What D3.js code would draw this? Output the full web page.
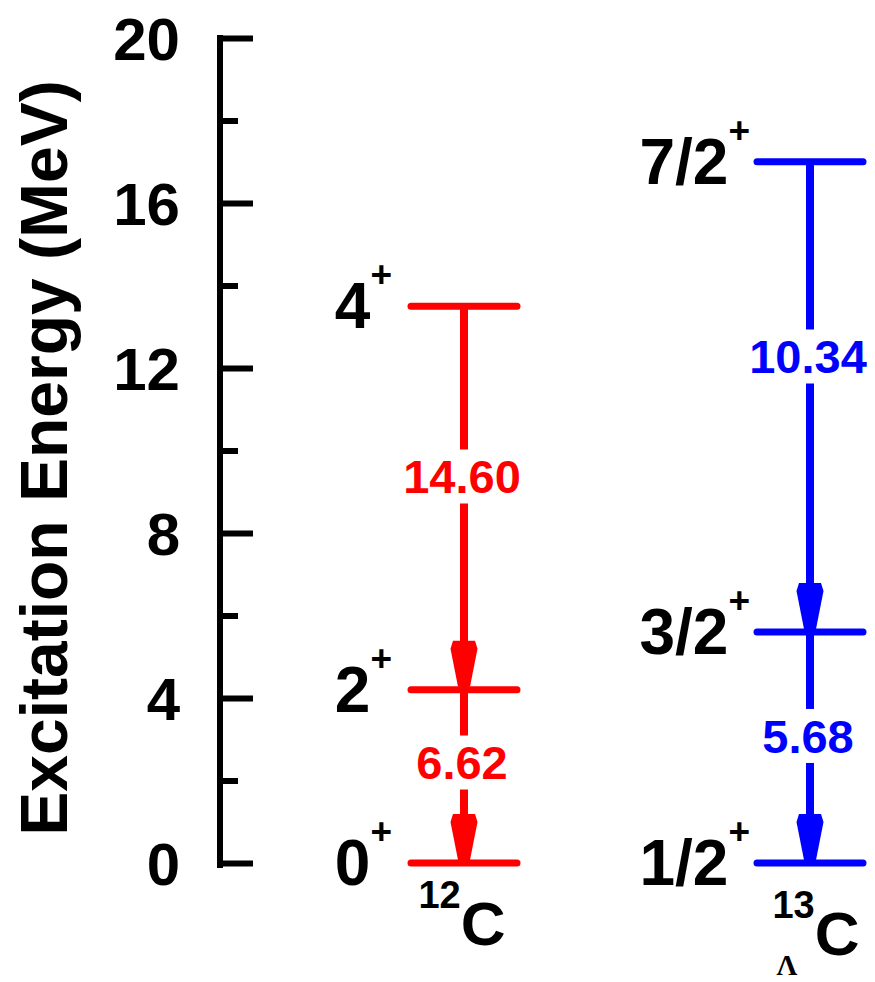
<!DOCTYPE html>
<html>
<head>
<meta charset="utf-8">
<script src="https://cdn.jsdelivr.net/npm/d3@7"></script>
<style>
  html, body { margin: 0; padding: 0; background: #fff; }
  svg { display: block; }
  text { font-family: "Liberation Sans", Arial, sans-serif; font-weight: bold; }
</style>
</head>
<body>
<div id="chart"></div>
<script>
// ---- data ----
const majorTicks = [0, 4, 8, 12, 16, 20];
const minorTicks = [2, 6, 10, 14, 18];
const nuclei = ["12C", "13LC"];
const c12Energies = [0, 4.2, 13.5];
const c12Spins = ["0", "2", "4"];
const c12BE2 = ["14.60", "6.62"];      // 4+ -> 2+, 2+ -> 0+
const c13Energies = [0, 5.6, 17.0];
const c13Spins = ["1/2", "3/2", "7/2"];
const c13BE2 = ["10.34", "5.68"];      // 7/2+ -> 3/2+, 3/2+ -> 1/2+

// ---- layout ----
const W = 875, H = 982;
const axisX = 220;
const y = d3.scaleLinear().domain([0, 20]).range([863, 38]);
const x = d3.scalePoint().domain(nuclei).range([464, 810]);
const levelHalf = 56;
const RED = "#ff0000", BLUE = "#0000ff";

const svg = d3.select("#chart").append("svg").attr("width", W).attr("height", H);

// axis line
svg.append("line")
  .attr("x1", axisX).attr("x2", axisX)
  .attr("y1", y(0) + 5).attr("y2", y(20) - 3)
  .attr("stroke", "#000").attr("stroke-width", 6);

// major ticks (inward, right side)
const majorAxis = d3.axisRight(y).tickValues(majorTicks).tickSize(33).tickFormat("");
const gMaj = svg.append("g").attr("transform", `translate(${axisX},0)`).call(majorAxis);
gMaj.select(".domain").remove();
gMaj.selectAll(".tick line").attr("stroke", "#000").attr("stroke-width", 6);

const minorAxis = d3.axisRight(y).tickValues(minorTicks).tickSize(18).tickFormat("");
const gMin = svg.append("g").attr("transform", `translate(${axisX},0)`).call(minorAxis);
gMin.select(".domain").remove();
gMin.selectAll(".tick line").attr("stroke", "#000").attr("stroke-width", 6);

// tick labels
const labAxis = d3.axisLeft(y).tickValues(majorTicks).tickSize(0).tickPadding(40).tickFormat(d3.format("d"));
const gLab = svg.append("g").attr("transform", `translate(${axisX},0)`).call(labAxis);
gLab.select(".domain").remove();
gLab.selectAll(".tick text")
  .attr("font-size", 60).attr("font-family", "Liberation Sans, Arial, sans-serif")
  .attr("font-weight", "bold").attr("fill", "#000")
  .attr("dy", "0.36em");

// axis title
svg.append("text")
  .attr("transform", "rotate(-90)")
  .attr("x", -458).attr("y", 67)
  .attr("text-anchor", "middle")
  .attr("font-size", 66)
  .attr("fill", "#000")
  .text("Excitation Energy (MeV)");

// ---- level schemes ----
const schemes = [
  { nucleus: "12C", energies: c12Energies, spins: c12Spins, be2: c12BE2, color: RED, labGap: 16, frac: [0.556, 0.58] },
  { nucleus: "13LC", energies: c13Energies, spins: c13Spins, be2: c13BE2, color: BLUE, labGap: 4, frac: [0.586, 0.55] }
];

schemes.forEach(s => {
  const cx = x(s.nucleus);
  const g = svg.append("g");

  // transitions
  for (let i = s.energies.length - 1; i > 0; i--) {
    const up = s.energies[i], lo = s.energies[i - 1];
    const lab = s.be2[s.energies.length - 1 - i];
    const frac = s.frac[s.energies.length - 1 - i];
    const ly = y(lo + frac * (up - lo));
    const gapHalf = 27;
    g.append("line").attr("x1", cx).attr("x2", cx)
      .attr("y1", y(up)).attr("y2", ly - gapHalf)
      .attr("stroke", s.color).attr("stroke-width", 8);
    g.append("line").attr("x1", cx).attr("x2", cx)
      .attr("y1", ly + gapHalf).attr("y2", y(lo))
      .attr("stroke", s.color).attr("stroke-width", 8);
    // arrowhead
    const tip = y(lo) - 3;
    const path = d3.path();
    path.moveTo(cx - 11, tip - 46);
    path.lineTo(cx + 11, tip - 46);
    path.lineTo(cx + 13.5, tip - 38);
    path.lineTo(cx + 6, tip);
    path.lineTo(cx - 6, tip);
    path.lineTo(cx - 13.5, tip - 38);
    path.closePath();
    g.append("path").attr("d", path.toString()).attr("fill", s.color);
    // transition strength label
    g.append("text")
      .attr("x", cx - 2).attr("y", ly)
      .attr("dy", "0.36em")
      .attr("text-anchor", "middle")
      .attr("font-size", 47)
      .attr("fill", s.color)
      .text(lab);
  }

  // levels
  s.energies.forEach((e, i) => {
    g.append("line")
      .attr("x1", cx - levelHalf + 3).attr("x2", cx + levelHalf - 3)
      .attr("y1", y(e)).attr("y2", y(e))
      .attr("stroke", s.color).attr("stroke-width", 7)
      .attr("stroke-linecap", "round");
    const t = svg.append("text")
      .attr("x", cx - levelHalf - s.labGap)
      .attr("y", y(e) + 22)
      .attr("text-anchor", "end")
      .attr("fill", "#000");
    t.append("tspan").attr("font-size", 64).text(s.spins[i]);
    t.append("tspan").attr("font-size", 37).attr("dy", -41).text("+");
  });
});

// nucleus labels
const n12 = svg.append("text")
  .attr("x", x("12C") - 2).attr("y", 945)
  .attr("text-anchor", "middle").attr("fill", "#000");
n12.append("tspan").attr("font-size", 38).attr("dy", -37).text("12");
n12.append("tspan").attr("font-size", 62).attr("dy", 37).text("C");

const n13 = svg.append("text")
  .attr("x", x("13LC") + 6).attr("y", 955)
  .attr("text-anchor", "middle").attr("fill", "#000");
n13.append("tspan").attr("font-size", 38).attr("dy", -37).text("13");
n13.append("tspan").attr("font-size", 62).attr("dy", 37).text("C");

svg.append("text")
  .attr("x", x("13LC") - 23).attr("y", 975)
  .attr("text-anchor", "middle")
  .style("font-family", "'Liberation Serif', 'Times New Roman', serif")
  .style("font-weight", "bold")
  .attr("font-size", 29)
  .attr("fill", "#000")
  .text("Λ");
</script>
</body>
</html>
